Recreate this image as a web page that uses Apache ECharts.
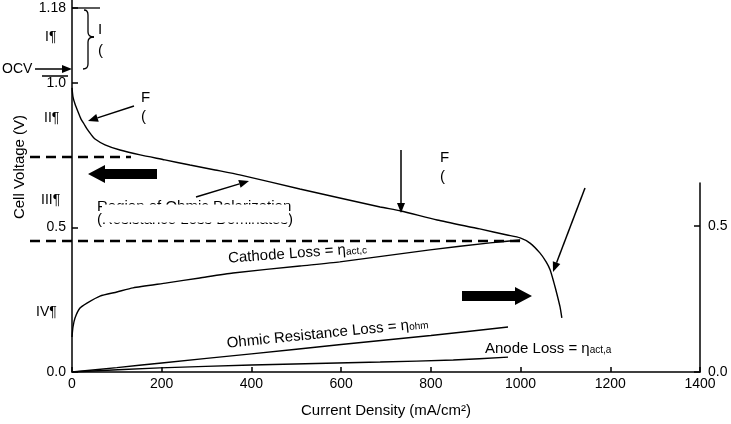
<!DOCTYPE html>
<html><head><meta charset="utf-8">
<script src="https://cdn.jsdelivr.net/npm/echarts@6/dist/echarts.min.js"></script>
<style>html,body{margin:0;padding:0;background:#fff}#c{width:731px;height:424px}</style>
</head><body><div id="c"></div>
<script>
// ---- data ----
const xTickLabels = ['0','200','400','600','800','1000','1200','1400'];
const yTickValues = [0, 0.5, 1.0, 1.26];
const yTickLabels = ['0.0','0.5','1.0','1.18'];
const y2TickValues = [0, 0.5];
const y2TickLabels = ['0.0','0.5'];

const cellCurrent = [0,2.2,6.7,13.4,20.1,26.8,33.4,42.4,51.3,73.6,107,152,207,263,319,374,508,597,687,733,814,909,970,999,1021,1043,1057,1066,1074,1081,1088,1092];
const cellVoltage = [0.983,0.952,0.927,0.900,0.875,0.858,0.841,0.822,0.806,0.786,0.768,0.751,0.734,0.716,0.699,0.682,0.633,0.602,0.571,0.557,0.526,0.495,0.474,0.464,0.446,0.412,0.381,0.353,0.311,0.270,0.225,0.187];

const cathodeCurrent = [0,2.2,6.7,17.8,33.4,62.4,100,136,212,285,359,508,597,798,932,999];
const cathodeLoss = [0.120,0.154,0.185,0.219,0.236,0.260,0.274,0.288,0.305,0.322,0.339,0.363,0.377,0.418,0.442,0.452];

const ohmicCurrent = [0,100,200,400,600,800,972];
const ohmicLoss = [0,0.015,0.031,0.062,0.094,0.125,0.154];

const anodeCurrent = [0,196,400,687,850,972];
const anodeLoss = [0,0.014,0.024,0.034,0.041,0.051];

const dashLevels = [0.744, 0.453];

// ---- chart ----
const FONT = '"Liberation Sans", Arial, sans-serif';
const pair = (xs, ys) => xs.map((x, i) => [x, ys[i]]);
const pick = (vals, labels) => v => {
  let best = 0;
  vals.forEach((t, i) => { if (Math.abs(t - v) < Math.abs(vals[best] - v)) best = i; });
  return labels[best];
};
const axisCol = {color: '#000', width: 1.5};
const lineSeries = (name, data, xi, yi) => ({
  name, type: 'line', data, xAxisIndex: xi, yAxisIndex: yi,
  showSymbol: false, smooth: 0.2, lineStyle: {color: '#000', width: 1.4}, silent: true
});

const chart = echarts.init(document.getElementById('c'), null, {renderer: 'canvas'});
chart.setOption({
  animation: false,
  backgroundColor: '#fff',
  grid: [
    {left: 72, right: 31, top: 0, bottom: 52},
    {left: 72, right: 31, top: 183, bottom: 52}
  ],
  xAxis: [
    {type: 'value', gridIndex: 0, min: 0, max: 1400, interval: 200,
     axisLine: {onZero: false, lineStyle: axisCol}, axisTick: {inside: true, length: 5, lineStyle: axisCol},
     axisLabel: {margin: 5, fontSize: 14, color: '#000', fontFamily: FONT,
                 formatter: v => xTickLabels[Math.round(v / 200)]},
     splitLine: {show: false},
     name: 'Current Density (mA/cm²)', nameLocation: 'middle', nameGap: 31,
     nameTextStyle: {fontSize: 15, color: '#000', fontFamily: FONT}},
    {type: 'value', gridIndex: 1, min: 0, max: 1400, show: false}
  ],
  yAxis: [
    {type: 'value', gridIndex: 0, min: 0, max: 1.287,
     axisLine: {show: true, onZero: false, lineStyle: axisCol},
     axisTick: {show: true, inside: true, length: 6, customValues: yTickValues, lineStyle: axisCol},
     axisLabel: {margin: 6, fontSize: 14, color: '#000', fontFamily: FONT,
                 customValues: yTickValues, formatter: pick(yTickValues, yTickLabels)},
     splitLine: {show: false},
     name: 'Cell Voltage (V)', nameLocation: 'middle', nameGap: 42,
     nameTextStyle: {fontSize: 15, color: '#000', fontFamily: FONT, padding: [0, 0, 0, 38]}},
    {type: 'value', gridIndex: 1, position: 'right', min: 0, max: 0.647,
     axisLine: {show: true, onZero: false, lineStyle: axisCol},
     axisTick: {show: true, inside: true, length: 6, customValues: y2TickValues, lineStyle: axisCol},
     axisLabel: {margin: 8, fontSize: 14, color: '#000', fontFamily: FONT,
                 customValues: y2TickValues, formatter: pick(y2TickValues, y2TickLabels)},
     splitLine: {show: false}}
  ],
  series: [
    lineSeries('Cell voltage', pair(cellCurrent, cellVoltage), 0, 0),
    lineSeries('Cathode loss', pair(cathodeCurrent, cathodeLoss), 1, 1),
    lineSeries('Ohmic loss', pair(ohmicCurrent, ohmicLoss), 1, 1),
    lineSeries('Anode loss', pair(anodeCurrent, anodeLoss), 1, 1)
  ]
});

// ---- annotations ----
function arrowLine(x1, y1, x2, y2, hl = 10, hw = 4, lw = 1.5) {
  const a = Math.atan2(y2 - y1, x2 - x1);
  const bx = x2 - hl * Math.cos(a), by = y2 - hl * Math.sin(a);
  const px = -Math.sin(a) * hw, py = Math.cos(a) * hw;
  return [
    {type: 'line', shape: {x1, y1, x2: bx, y2: by}, style: {stroke: '#000', lineWidth: lw}},
    {type: 'polygon', shape: {points: [[x2, y2], [bx + px, by + py], [bx - px, by - py]]}, style: {fill: '#000'}}
  ];
}
function fatArrow(xTail, xTip, y, bodyH = 10, headW = 18, headL = 17) {
  const dir = Math.sign(xTip - xTail);
  const xb = xTip - dir * headL;
  return {type: 'polygon', shape: {points: [
    [xTail, y - bodyH / 2], [xb, y - bodyH / 2], [xb, y - headW / 2], [xTip, y],
    [xb, y + headW / 2], [xb, y + bodyH / 2], [xTail, y + bodyH / 2]]}, style: {fill: '#000'}};
}
function txt(x, y, text, size = 15, va = 'middle') {
  return {type: 'text', x, y, z: 10, style: {
    text, font: size + 'px ' + FONT, fill: '#000',
    align: 'left', verticalAlign: va, textAlign: 'left', textVerticalAlign: va}};
}
function richTxt(x, y, main, sub, rot) {
  return {type: 'text', x, y, rotation: rot, z: 10, style: {
    text: '{a|' + main + '}{s|' + sub + '}',
    align: 'left', verticalAlign: 'bottom', textAlign: 'left', textVerticalAlign: 'bottom',
    rich: {
      a: {fontSize: 15, fontFamily: FONT, color: '#000', padding: [0, 0, 4, 0]},
      s: {fontSize: 10, fontFamily: FONT, color: '#000'}
    }}};
}
const thin = {stroke: '#000', lineWidth: 1.3, fill: null};
function bez(x1, y1, cx, cy, x2, y2) {
  return {type: 'bezierCurve', shape: {x1, y1, cpx1: cx, cpy1: cy, x2, y2}, style: thin};
}
function seg(x1, y1, x2, y2, lw = 1.3) {
  return {type: 'line', shape: {x1, y1, x2, y2}, style: {stroke: '#000', lineWidth: lw}};
}

const dashY = dashLevels.map(v => chart.convertToPixel({xAxisIndex: 0, yAxisIndex: 0}, [0, v])[1]);
const dashStyle = {stroke: '#000', lineWidth: 2.5, lineDash: [10, 6]};

const g = [];
g.push({type: 'line', shape: {x1: 30, y1: dashY[0], x2: 131, y2: dashY[0]}, style: dashStyle});
g.push({type: 'line', shape: {x1: 30, y1: dashY[1], x2: 521, y2: dashY[1]}, style: dashStyle});
// 1.18 level line and brace
g.push(seg(72, 8, 100, 8));
g.push(bez(84, 10, 88, 10, 88, 15));
g.push(seg(88, 15, 88, 32));
g.push(bez(88, 32, 88, 37, 94, 37));
g.push(bez(94, 37, 88, 37, 88, 42));
g.push(seg(88, 42, 88, 64));
g.push(bez(88, 64, 88, 69, 83, 69));
g.push(seg(42, 76, 68, 76, 1.5));
// thin arrows
g.push(...arrowLine(35, 69, 72, 69));
g.push(...arrowLine(134, 106, 88, 121));
g.push(...arrowLine(196, 197, 249, 181));
g.push(...arrowLine(401, 150, 401, 213));
g.push(...arrowLine(585, 188, 553, 272));
// fat arrows
g.push(fatArrow(157, 88, 174));
g.push(fatArrow(462, 532, 296));
// texts
g.push(txt(2, 69, 'OCV', 14));
g.push(txt(45, 37, 'I¶', 14));
g.push(txt(44, 118, 'II¶', 14));
g.push(txt(41, 200, 'III¶', 14));
g.push(txt(36, 312, 'IV¶', 14));
g.push(txt(98, 30, 'I', 15));
g.push(txt(98, 51, '(', 15));
g.push(txt(141, 98, 'F', 15));
g.push(txt(141, 117, '(', 15));
g.push(txt(440, 158, 'F', 15));
g.push(txt(440, 177, '(', 15));
g.push(txt(97, 207, 'Region of Ohmic Polarization', 15));
g.push(txt(97, 220, '(Resistance Loss Dominates)', 15));
g.push({type: 'rect', z: 20, shape: {x: 102, y: 204.5, width: 187, height: 18}, style: {fill: '#fff'}});
g.push(richTxt(229, 270, 'Cathode Loss = η', 'act,c', 0.073));
g.push(richTxt(228, 355, 'Ohmic Resistance Loss = η', 'ohm', 0.1));
g.push(richTxt(485, 360, 'Anode Loss = η', 'act,a', 0));

chart.setOption({graphic: {elements: g}});
</script>
</body></html>
